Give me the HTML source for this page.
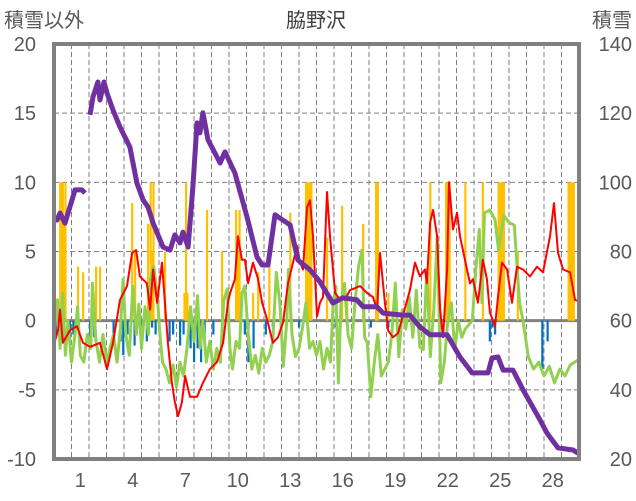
<!DOCTYPE html>
<html><head><meta charset="utf-8">
<style>
html,body{margin:0;padding:0;background:#fff;}
svg{display:block;font-family:"Liberation Sans","Noto Sans CJK JP",sans-serif;}
</style></head>
<body>
<svg id="chart" width="636" height="501" viewBox="0 0 636 501" xmlns="http://www.w3.org/2000/svg">
<text x="316" y="27" font-size="20" fill="#404040" text-anchor="middle">脇野沢</text>
<text x="4" y="27" font-size="20" fill="#595959">積雪以外</text>
<text x="632" y="27" font-size="20" fill="#595959" text-anchor="end">積雪</text>
<g id="grid"></g>
<g id="bars"></g>
<g id="lines"></g>
<g id="axes"></g>
</svg>
<script>
const leftTicks=[20,15,10,5,0,-5,-10];
const rightTicks=[140,120,100,80,60,40,20];
const dayLabels=[1,4,7,10,13,16,19,22,25,28];
const redT=[0,.23,.34,.51,.91,1.31,1.66,2.06,2.63,3.03,3.37,3.77,4.17,4.46,4.69,4.91,5.31,5.49,5.66,5.89,6.17,6.34,6.51,6.74,6.91,7.09,7.31,7.49,7.77,8.17,8.51,8.91,9.31,9.66,9.94,10.06,10.34,10.51,10.74,10.91,11.09,11.37,11.66,11.89,12.17,12.51,12.8,13.09,13.37,13.6,13.89,14.06,14.23,14.46,14.63,14.8,15.03,15.2,15.37,15.6,15.77,16.06,16.23,16.63,16.91,17.49,17.89,18.23,18.46,18.63,18.91,19.09,19.37,19.66,20.34,20.63,20.91,21.2,21.31,21.49,21.66,21.89,22.06,22.23,22.46,22.57,22.8,23.03,23.2,23.6,23.77,23.94,24.23,24.51,24.74,24.91,25.2,25.37,25.6,25.89,26.17,26.46,26.8,27.2,27.6,27.94,28.34,28.57,28.8,29.09,29.49,29.77,30];
const redV=[-1.7,-0.7,0.8,-1.6,-0.7,-0.4,-1.6,-1.9,-1.6,-3.5,-1.6,1.5,2.5,4.9,5.1,3.2,2.7,0.8,3.7,1.3,4.2,1.3,-1.6,-4.5,-5.9,-6.9,-5.9,-4,-5.5,-5.5,-4.5,-3.5,-3,-1.6,1.3,2,3,6.1,4.4,4.4,2.7,4.2,3,1.3,0.1,-1.6,-1.2,-0.1,2.7,3.9,5.4,4.2,3.7,8.2,8.7,6.1,0.3,1.3,1.7,9.3,6.1,2,1.7,1.5,2.2,2.5,2,1.7,0.8,4.9,1.3,-0.7,-1.2,-0.9,2.2,4.2,3.2,3.7,2.7,7.1,8,6.1,0.8,-1.2,3.7,10,6.6,7.8,6.1,3.7,2.7,3,1.3,4.4,3,0.6,-0.4,1.7,4.2,3.7,1.3,3.9,3.7,3.2,3.9,3.5,6.1,8.5,4.9,3.7,3.5,1.5,1.4];
const greenT=[0,.2,.35,.5,.65,.8,1,1.2,1.35,1.5,1.7,1.9,2.1,2.2,2.4,2.6,2.8,3,3.2,3.4,3.6,3.8,3.95,4.1,4.3,4.5,4.7,4.85,5,5.2,5.4,5.5,5.7,5.9,6.05,6.2,6.4,6.6,6.8,7,7.2,7.4,7.6,7.8,8,8.2,8.35,8.5,8.7,8.9,9.1,9.3,9.5,9.7,9.9,10.05,10.2,10.4,10.6,10.75,10.9,11.1,11.3,11.5,11.7,11.9,12.1,12.3,12.5,12.7,12.9,13.1,13.3,13.4,13.6,13.8,14,14.2,14.4,14.6,14.8,15,15.2,15.4,15.6,15.8,15.95,16.1,16.25,16.4,16.6,16.8,17,17.2,17.4,17.6,17.75,17.9,18.1,18.3,18.5,18.7,18.9,19.1,19.3,19.5,19.7,19.9,20.1,20.3,20.5,20.7,20.9,21.1,21.3,21.5,21.7,21.9,22.1,22.3,22.5,22.7,22.9,23.1,23.3,23.5,23.7,23.9,24.1,24.3,24.45,24.6,24.9,25.2,25.4,25.7,26,26.3,26.6,26.8,27.1,27.4,27.7,28,28.3,28.6,28.9,29.2,29.5,30];
const greenV=[-1,1.5,-2,2,-2.5,0,-3,-1,1,-2.5,-3,-1,-2,2.7,-1.5,-3,-1,-3,-2,-1,-3,-0.5,3,-1,-2.5,2.5,-1,1.2,-2,1,-1,3,3.9,1.8,-1,-3,-3.5,-4.5,-3.2,-4.8,-3,-4,-2,1,-1.5,1.8,-2,0,-3,-1.5,-3.5,-2,-3,1.5,2.3,-2,-3.5,-1.5,-2,2,2.5,-1,-3.5,-2.5,-3.8,-2,-3,-2.5,-1.5,3.5,1.3,-3.3,0,3.7,-1,-2.6,-2,-0.5,1.3,-2,-1.5,-2.5,-1.5,-3.5,-2,-3,1.2,2.5,-4.5,1.3,2.7,-1,-2,1.3,3.9,5.1,-1.2,-1.6,-5.5,-3,-1,-4,-3.5,-3,-1,2.7,-2.6,0.8,-0.6,1.7,-1.2,2.2,-1.9,-2.1,3.7,-2.6,0.8,6.1,-4.5,-3,0,1.3,-2.1,0,-1.2,-0.6,-0.3,0,3.7,6.6,1.3,7.8,8,7.3,5.1,7.6,7.1,6.9,1.3,0,-2.6,-3.5,-3,-4,-3.3,-4.5,-3.5,-4,-3.2,-2.8];
const snowT=[0,.17,.34,.63,1.03,1.2,1.6,1.77,null,2.06,2.23,2.51,2.63,2.86,3.03,3.37,3.77,4.34,4.74,5.09,5.37,5.66,6.23,6.63,6.91,7.2,7.37,7.66,7.94,8.17,8.34,8.51,8.8,9.49,9.77,10.34,11.03,11.6,11.89,12.23,12.63,13.49,13.94,14.63,15.2,15.94,16.51,17.31,17.66,18.46,18.8,19.94,20.34,20.91,21.49,22.46,23.2,23.89,24.8,25.03,25.37,25.66,26.23,26.8,27.77,28.17,28.8,29.66,29.94];
const snowV=[89.1,89.1,91.1,88.2,94.9,97.8,97.8,96.9,null,119.5,124.7,129,123.8,129,125.8,120.9,116,110.2,99.8,94.9,92.9,88.2,81.3,80.4,84.8,82.5,85.6,81.3,98.7,117.2,114.3,120.1,112.3,105.6,108.8,102.7,90,78.4,76.1,76.1,90.6,87.7,77.5,74.7,71.2,65.1,66.6,66,64,64,62.2,61.6,61.6,58.2,55.9,55.9,49.5,44.9,44.9,49.2,49.5,45.7,45.7,40,31.3,27.5,23.2,22.6,21.7];
const yellowT=[.35,.42,.5,.58,.65,1.37,1.66,2.4,2.63,4.46,4.63,5.37,5.52,5.6,5.68,6.34,7.45,7.54,7.62,8.74,9.6,10.4,10.5,10.6,11.37,11.66,12.3,13.5,14.4,14.5,14.6,14.7,15.6,16.46,16.75,17.66,18.4,18.5,19.1,21.5,22.4,22.5,22.6,23.5,24.5,25.4,25.5,25.6,25.7,26.5,29.4,29.5,29.6,29.7];
const yellowV=[10,10,10,7.5,10,3.9,3.5,3.9,3.9,8.5,5,7,10,5,10,5,2,10,2,8,5,8,5,8,2,3.5,5,7.8,10,10,10,10,6,8.3,2,7,10,10,2,10,10,10,10,10,10,10,10,10,10,5,10,10,10,10];
const blueT=[.1,.9,1.1,2.06,2.3,3.4,3.8,3.95,4.2,4.6,5,5.3,5.6,5.8,6.6,6.8,7.2,7.4,7.8,8,8.2,8.4,8.6,9.1,10.9,11.1,11.4,12.1,12.5,14,16.1,18.1,19.1,19.6,24.9,25.05,25.2,27.9,28.2];
const blueV=[-1,-1.5,-1,-2,-1.2,-1,-1.5,-2.5,-1,-1.8,-1,-1.5,-0.5,-1,-1.5,-1,-1.8,-1,-2,-3,-2,-3,-1.5,-1,-1,-3,-2,-1,-0.5,-0.5,-0.5,-0.5,-0.5,-0.5,-1.5,-0.5,-1,-3.5,-1.5];

const NS='http://www.w3.org/2000/svg';
const X0=54,X1=579,Y0=44,Y1=459;
const xs=t=>X0+(X1-X0)*t/30;
const yl=v=>Y1-(Y1-Y0)*(v+10)/30;
const yr=v=>Y1-(Y1-Y0)*(v-20)/120;
function mk(tag,attrs,parent){const e=document.createElementNS(NS,tag);for(const k in attrs)e.setAttribute(k,attrs[k]);parent.appendChild(e);return e;}
const grid=document.getElementById('grid'),bars=document.getElementById('bars'),lines=document.getElementById('lines'),axes=document.getElementById('axes');
leftTicks.forEach((v,i)=>{
  if(v!==0&&v!==20&&v!==-10){const l=mk('line',{x1:X0,x2:X1,y1:yl(v),y2:yl(v),stroke:'#808080','stroke-width':1,'stroke-dasharray':'5,3'},grid);
  
  }
  const t=mk('text',{x:36,y:yl(v)+7,'font-size':20,fill:'#595959','text-anchor':'end'},axes);t.textContent=v;
  
  
});
rightTicks.forEach(v=>{
  const t=mk('text',{x:632,y:yr(v)+7,'font-size':20,fill:'#595959','text-anchor':'end'},axes);t.textContent=v;
  
  
});
for(let d=1;d<30;d++){
  const l=mk('line',{x1:xs(d),x2:xs(d),y1:Y0,y2:Y1,stroke:'#808080','stroke-width':1,'stroke-dasharray':'5,3'},grid);
  
  
}
dayLabels.forEach(d=>{
  const t=mk('text',{x:xs(d+0.5),y:487,'font-size':20,fill:'#595959','text-anchor':'middle'},axes);t.textContent=d;
  
  
});
yellowT.forEach((t,i)=>{
  const r=mk('rect',{x:xs(t)-1,y:yl(yellowV[i]),width:2.2,height:yl(0)-yl(yellowV[i]),fill:'#ffc000'},bars);
  
  
});
blueT.forEach((t,i)=>{
  const r=mk('rect',{x:xs(t)-1,y:yl(0),width:2.2,height:yl(blueV[i])-yl(0),fill:'#0070c0'},bars);
  
  
});
const zl=mk('line',{x1:X0,x2:X1,y1:yl(0),y2:yl(0),stroke:'#808080','stroke-width':3},grid);


function path(T,V,yf){let d='',pen=false;T.forEach((t,i)=>{if(t===null){pen=false;return;}d+=(pen?'L':'M')+xs(t).toFixed(1)+','+yf(V[i]).toFixed(1);pen=true;});return d;}
const g=mk('path',{d:path(greenT,greenV,yl),fill:'none',stroke:'#92d050','stroke-width':3,'stroke-linejoin':'round'},lines);


const r=mk('path',{d:path(redT,redV,yl),fill:'none',stroke:'#ff0000','stroke-width':2,'stroke-linejoin':'round'},lines);


const p=mk('path',{d:path(snowT,snowV,yr),fill:'none',stroke:'#7030a0','stroke-width':5,'stroke-linejoin':'round'},lines);


const fr=mk('rect',{x:X0,y:Y0,width:X1-X0,height:Y1-Y0,fill:'none',stroke:'#808080','stroke-width':4},axes);


</script>
</body></html>
